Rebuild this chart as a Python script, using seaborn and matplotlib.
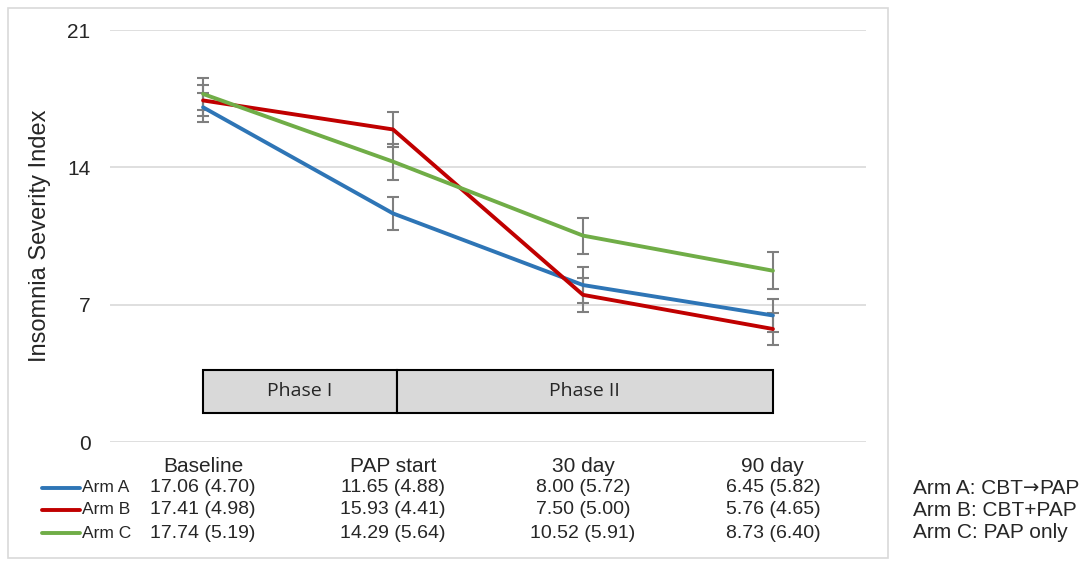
import numpy as np
import pandas as pd
import matplotlib
matplotlib.use("Agg")
import matplotlib.pyplot as plt
import matplotlib.transforms as mtransforms
from matplotlib.lines import Line2D
from matplotlib.patches import Rectangle
import seaborn as sns

# ---- data ----
timepoints = ["Baseline", "PAP start", "30 day", "90 day"]
arms = ["Arm A", "Arm B", "Arm C"]
arm_a_mean = [17.06, 11.65, 8.00, 6.45]
arm_b_mean = [17.41, 15.93, 7.50, 5.76]
arm_c_mean = [17.74, 14.29, 10.52, 8.73]
arm_a_sd = [4.70, 4.88, 5.72, 5.82]
arm_b_sd = [4.98, 4.41, 5.00, 4.65]
arm_c_sd = [5.19, 5.64, 5.91, 6.40]
# error bar half-heights
arm_a_err = [0.75, 0.82, 0.90, 0.85]
arm_b_err = [0.80, 0.90, 0.85, 0.80]
arm_c_err = [0.82, 0.92, 0.92, 0.95]
arm_desc = [("Arm A: CBT", "\u2192", "PAP"), ("Arm B: CBT+PAP", "", ""),
            ("Arm C: PAP only", "", "")]
phases = ["Phase I", "Phase II"]
yticks = [0, 7, 14, 21]

means = [arm_a_mean, arm_b_mean, arm_c_mean]
sds = [arm_a_sd, arm_b_sd, arm_c_sd]
errs = [arm_a_err, arm_b_err, arm_c_err]
colors = ["#2E75B6", "#C00000", "#70AD47"]

rows = []
for arm, m, e in zip(arms, means, errs):
    for i, tp in enumerate(timepoints):
        rows.append({"arm": arm, "x": i, "tp": tp, "mean": m[i], "err": e[i]})
df = pd.DataFrame(rows)

sns.set_theme(style="white")
plt.rcParams["font.family"] = ["Liberation Sans", "DejaVu Sans"]

fig = plt.figure(figsize=(10.91, 5.61), dpi=100)
ax = fig.add_axes([110/1091, 1-442/561, (866-110)/1091, (442-30)/561])

# outer border
fig.patches.append(Rectangle((8/1091, 1-558/561), (888-8)/1091, (558-8)/561,
                             transform=fig.transFigure, fill=False,
                             edgecolor="#d9d9d9", linewidth=1.2, zorder=0))

for yt in yticks:
    ax.axhline(yt, color="#d9d9d9", lw=1.2, zorder=0)

# phase boxes
ax.add_patch(Rectangle((0, 1.5), 1.02, 2.15, facecolor="#d9d9d9",
                       edgecolor="black", lw=1.5, zorder=1))
ax.add_patch(Rectangle((1.02, 1.5), 3 - 1.02, 2.15, facecolor="#d9d9d9",
                       edgecolor="black", lw=1.5, zorder=1))
ax.text(0.51, 2.575, phases[0], ha="center", va="center", fontsize=14,
        family=["Open Sans", "DejaVu Sans"])
ax.text((1.02 + 3) / 2, 2.575, phases[1], ha="center", va="center", fontsize=14,
        family=["Open Sans", "DejaVu Sans"])

# error bars
for arm, c in zip(arms, colors):
    d = df[df.arm == arm]
    ax.errorbar(d["x"], d["mean"], yerr=d["err"], fmt="none", ecolor="#7f7f7f",
                elinewidth=1.5, capsize=4, capthick=1.5, zorder=2)

sns.lineplot(data=df, x="x", y="mean", hue="arm", palette=colors, ax=ax,
             linewidth=2.8, legend=False, errorbar=None, zorder=3)

ax.set_xlim(-0.49, 3.49)
ax.set_ylim(0, 21)
ax.set_yticks(yticks)
ax.set_yticklabels([str(v) for v in yticks], fontsize=15)
ax.tick_params(axis="y", length=0, pad=14)
ax.set_xticks([])
ax.set_xlabel("")
ax.set_ylabel("Insomnia Severity Index", fontsize=17, labelpad=12)
for s in ax.spines.values():
    s.set_visible(False)

# data table
trans = mtransforms.blended_transform_factory(ax.transData, fig.transFigure)
header_y = 1 - 466/561
row_y = [1 - 488/561, 1 - 510/561, 1 - 533/561]
for i, tp in enumerate(timepoints):
    ax.text(i, header_y, tp, transform=trans, ha="center", va="center",
            fontsize=15, clip_on=False)
for r, (arm, m, s, c) in enumerate(zip(arms, means, sds, colors)):
    for i in range(len(timepoints)):
        ax.text(i, row_y[r], f"{m[i]:.2f} ({s[i]:.2f})", transform=trans,
                ha="center", va="center", fontsize=14, clip_on=False)
    fig.add_artist(Line2D([42/1091, 80/1091], [row_y[r], row_y[r]],
                          transform=fig.transFigure, color=c, lw=2.8,
                          solid_capstyle="round"))
    fig.text(82/1091, row_y[r], arm, ha="left", va="center", fontsize=12.5)

renderer = fig.canvas.get_renderer()
for r, parts in enumerate(arm_desc):
    x = 913
    for k, p in enumerate(parts):
        if not p:
            continue
        fam = ["DejaVu Sans"] if k == 1 else ["Liberation Sans", "DejaVu Sans"]
        t = fig.text(x/1091, row_y[r], p, ha="left", va="center",
                     fontsize=15 if k != 1 else 14, family=fam)
        x += t.get_window_extent(renderer).width

fig.savefig("out.png", dpi=100)
